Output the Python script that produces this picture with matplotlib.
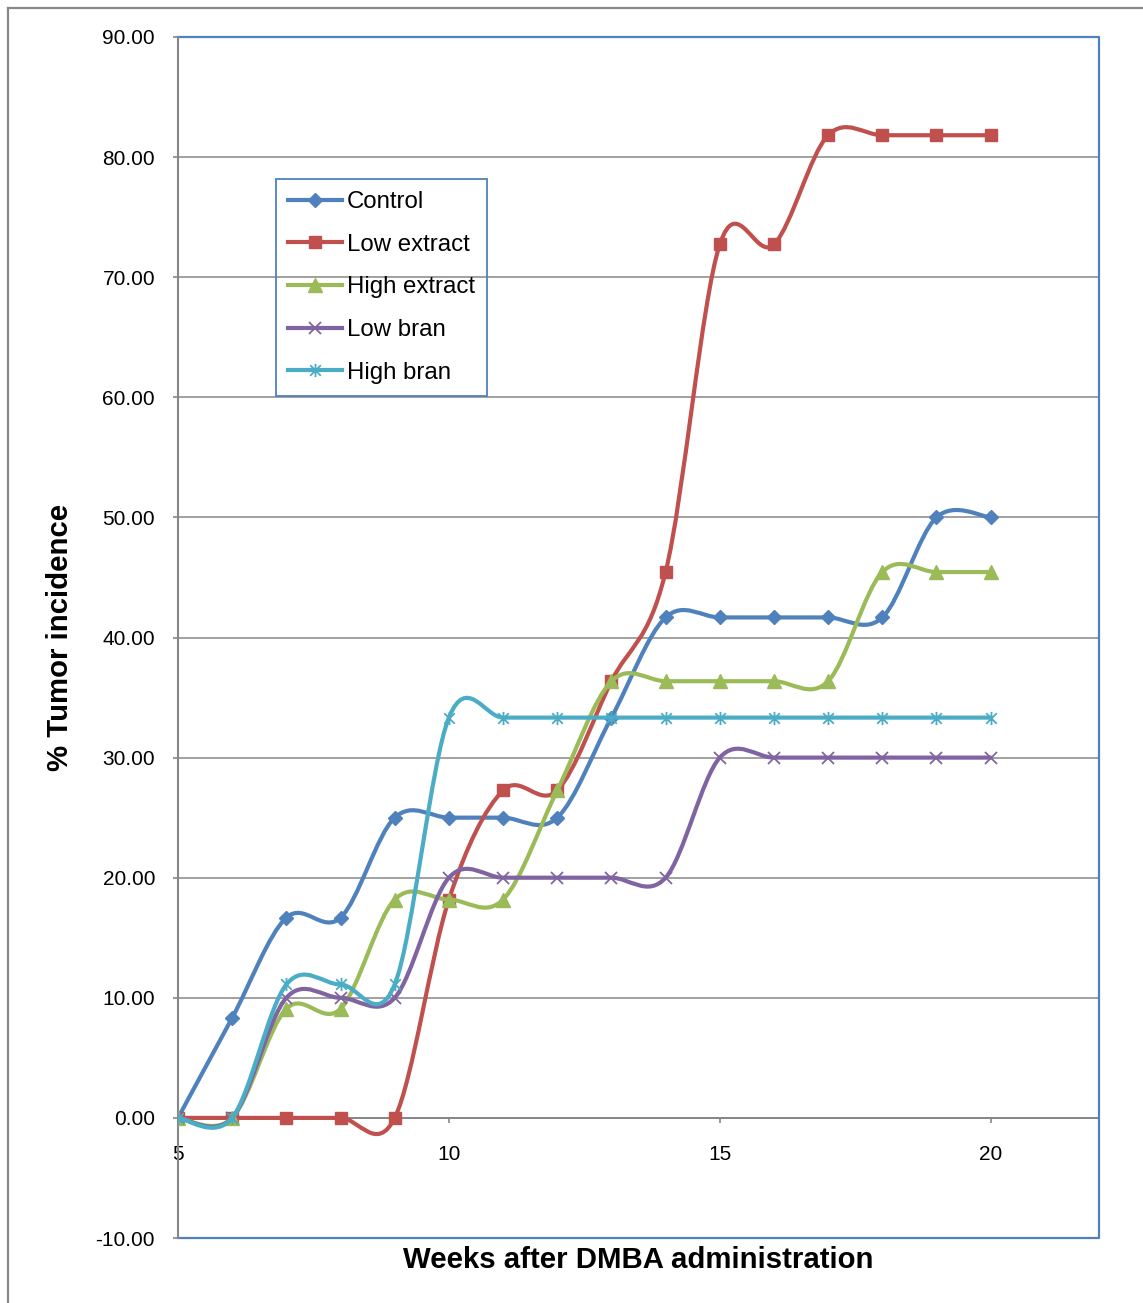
import numpy as np
import matplotlib
matplotlib.use("Agg")
import matplotlib.pyplot as plt
from matplotlib.path import Path
from matplotlib.patches import PathPatch
from matplotlib.lines import Line2D

plt.rcParams['font.family'] = ['Liberation Sans', 'DejaVu Sans']

# tumour incidence (%) per week after DMBA
weeks = [5, 6, 7, 8, 9, 10, 11, 12, 13, 14, 15, 16, 17, 18, 19, 20]
control = [0, 8.33, 16.67, 16.67, 25, 25, 25, 25, 33.33, 41.67, 41.67, 41.67, 41.67, 41.67, 50, 50]
low_extract = [0, 0, 0, 0, 0, 18.18, 27.27, 27.27, 36.36, 45.45, 72.73, 72.73, 81.82, 81.82, 81.82, 81.82]
high_extract = [0, 0, 9.09, 9.09, 18.18, 18.18, 18.18, 27.27, 36.36, 36.36, 36.36, 36.36, 36.36, 45.45, 45.45, 45.45]
low_bran = [0, 0, 10, 10, 10, 20, 20, 20, 20, 20, 30, 30, 30, 30, 30, 30]
high_bran = [0, 0, 11.11, 11.11, 11.11, 33.33, 33.33, 33.33, 33.33, 33.33, 33.33, 33.33, 33.33, 33.33, 33.33, 33.33]

series_names = ["Control", "Low extract", "High extract", "Low bran", "High bran"]
series_values = [control, low_extract, high_extract, low_bran, high_bran]
colors = ["#4F81BD", "#C0504D", "#9BBB59", "#8064A2", "#4BACC6"]

# asterisk marker: an x with a vertical bar through it
star_marker = Path(
    [(-1, -1), (1, 1), (-1, 1), (1, -1), (0, -1.25), (0, 1.25)],
    [Path.MOVETO, Path.LINETO, Path.MOVETO, Path.LINETO, Path.MOVETO, Path.LINETO],
)
marker_styles = [
    dict(marker='D', ms=7.5, mfc=colors[0], mec=colors[0]),
    dict(marker='s', ms=9, mfc=colors[1], mec=colors[1]),
    dict(marker='^', ms=9.5, mfc=colors[2], mec=colors[2]),
    dict(marker='x', ms=8, mew=1.3, mfc='none', mec=colors[3]),
    dict(marker=star_marker, ms=9.5, mew=1.3, mfc='none', mec=colors[4]),
]


def smooth_path(xs, ys):
    """Catmull-Rom style cubic Bezier through the points (spreadsheet 'smoothed line')."""
    pts = np.column_stack([xs, ys]).astype(float)
    n = len(pts)
    verts = [pts[0]]
    codes = [Path.MOVETO]
    for i in range(n - 1):
        p_prev = pts[i - 1] if i > 0 else pts[i]
        p_next2 = pts[i + 2] if i + 2 < n else pts[i + 1]
        c1 = pts[i] + (pts[i + 1] - p_prev) / 6.0
        c2 = pts[i + 1] - (p_next2 - pts[i]) / 6.0
        verts += [c1, c2, pts[i + 1]]
        codes += [Path.CURVE4] * 3
    return Path(verts, codes)


W, H = 1143, 1303
fig = plt.figure(figsize=(W / 100, H / 100), dpi=100)
left, right, top, bottom = 178, 1099, 37, 1238
ax = fig.add_axes([left / W, 1 - bottom / H, (right - left) / W, (bottom - top) / H])

grid_col = "#868686"
ax.set_xlim(5, 22)
ax.set_ylim(-10, 90)
ax.set_yticks(np.arange(-10, 91, 10))
ax.set_yticklabels([f"{v:.2f}" for v in np.arange(-10, 91, 10)])
ax.set_xticks([5, 10, 15, 20])
ax.yaxis.grid(True, color=grid_col, linewidth=1.1)
ax.set_axisbelow(True)

ax.spines['top'].set_visible(False)
ax.spines['right'].set_visible(False)
ax.spines['bottom'].set_position(('data', 0))
ax.spines['bottom'].set_color(grid_col)
ax.spines['bottom'].set_linewidth(1.3)
ax.spines['left'].set_color(grid_col)
ax.spines['left'].set_linewidth(1.5)
ax.spines['left'].set_zorder(5)

# blue plot-area border on top, right and bottom
border = "#4F81BD"
ax.plot([0, 1, 1, 0], [1, 1, 0, 0], transform=ax.transAxes, color=border,
        lw=1.6, clip_on=False, zorder=4)

ax.tick_params(axis='y', direction='out', length=3.5, color=grid_col, width=1.2,
               labelsize=15, pad=13)
ax.tick_params(axis='x', direction='out', length=3.5, color=grid_col, width=1.2,
               labelsize=15, pad=16)

handles = []
for k, (name, vals) in enumerate(zip(series_names, series_values)):
    col = colors[k]
    patch = PathPatch(smooth_path(weeks, vals), facecolor='none', edgecolor=col,
                      lw=3.0, zorder=10 + 2 * k, capstyle='round', joinstyle='round')
    ax.add_patch(patch)
    ax.plot(weeks, vals, linestyle='none', zorder=11 + 2 * k, **marker_styles[k])
    handles.append(Line2D([], [], color=col, lw=3.0, **marker_styles[k]))

leg = fig.legend(handles, series_names, loc='upper left',
                 bbox_to_anchor=(276 / W, 1 - 179 / H), borderaxespad=0,
                 fontsize=17.3, handlelength=2.25, handletextpad=0.2,
                 labelspacing=0.86, borderpad=0.5, fancybox=False,
                 facecolor='none', edgecolor=border, framealpha=1)
leg.get_frame().set_linewidth(1.3)

fig.text((left + right) / 2 / W, 1 - 1260 / H, "Weeks after DMBA administration",
         ha='center', va='center', fontsize=21.2, fontweight='bold')
fig.text(60 / W, 1 - (top + bottom) / 2 / H, "% Tumor incidence", rotation=90,
         ha='center', va='center', fontsize=21.2, fontweight='bold')

# outer chart frame (top and left edges)
fig.add_artist(Line2D([8 / W, 8 / W], [0, 1 - 8 / H], color="#888888", lw=1.6))
fig.add_artist(Line2D([8 / W, 1], [1 - 8 / H, 1 - 8 / H], color="#888888", lw=1.6))

fig.savefig("out.png", dpi=100)
